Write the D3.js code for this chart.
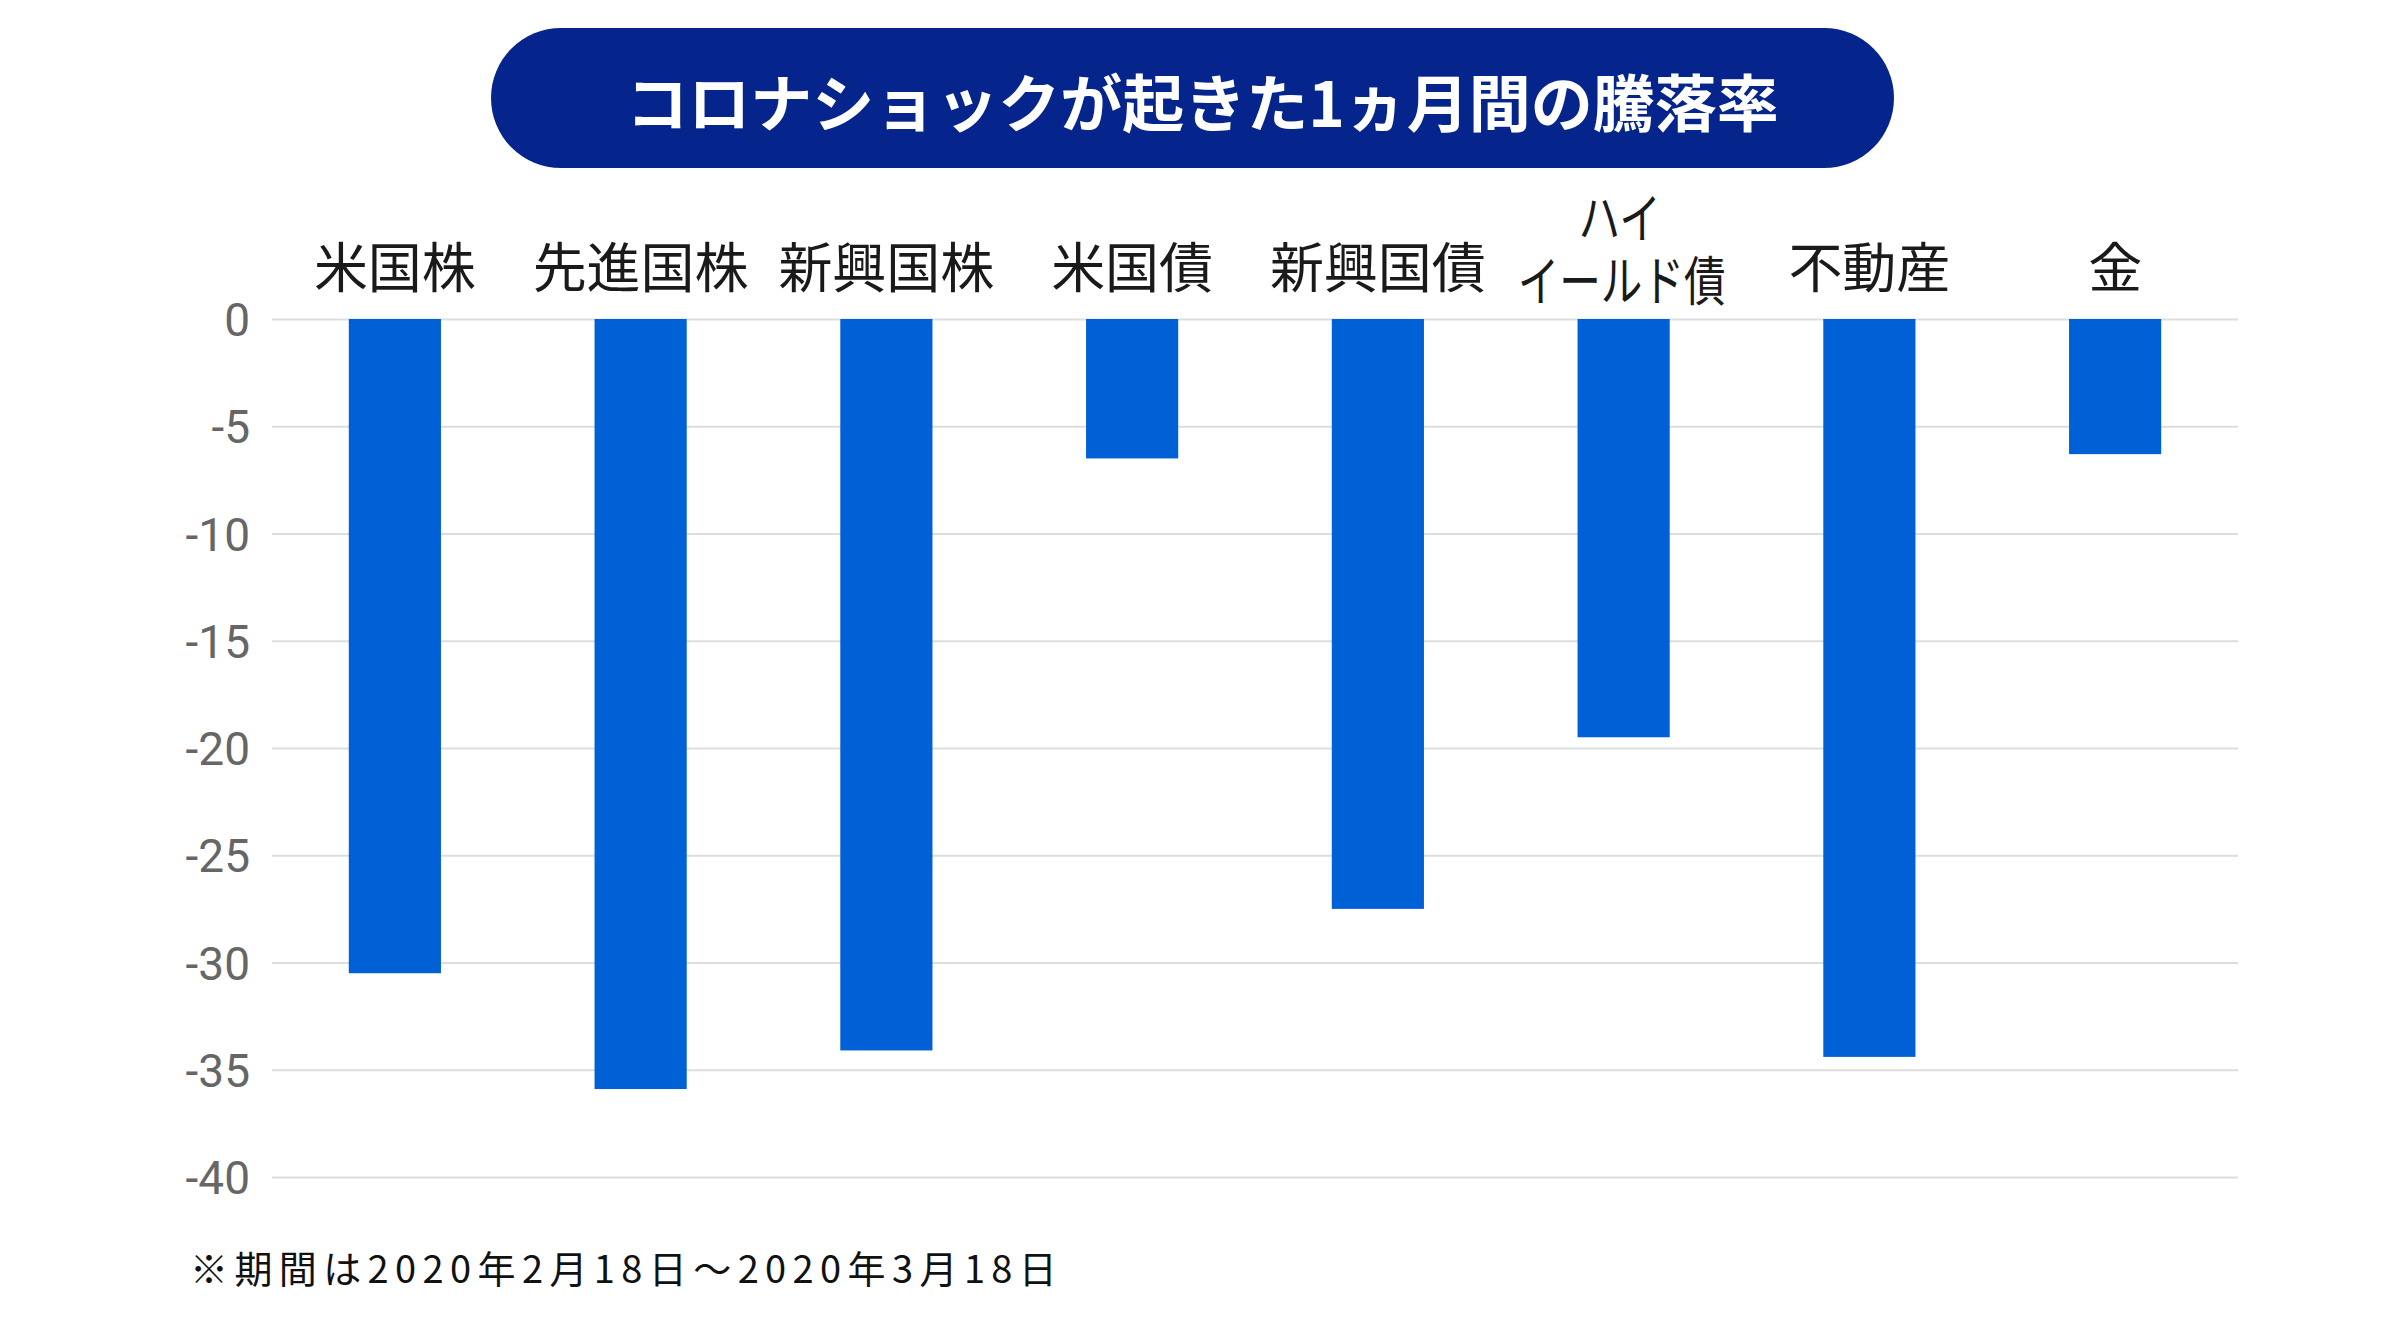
<!DOCTYPE html>
<html><head><meta charset="utf-8">
<script src="https://cdn.jsdelivr.net/npm/d3@7/dist/d3.min.js"></script>
<style>
html,body{margin:0;padding:0;background:#fff;}
svg{display:block;}
</style></head>
<body>
<svg id="chart" width="2401" height="1321"></svg>
<script>
const title = "コロナショックが起きた1ヵ月間の騰落率";
const categories = ["米国株","先進国株","新興国株","米国債","新興国債","ハイ\nイールド債","不動産","金"];
const values = [-30.5,-35.9,-34.1,-6.5,-27.5,-19.5,-34.4,-6.3];
const yTicks = [0,-5,-10,-15,-20,-25,-30,-35,-40];
const yTickLabels = ["0","-5","-10","-15","-20","-25","-30","-35","-40"];
const footnote = "※期間は2020年2月18日〜2020年3月18日";

(function(){
const svg = d3.select("#chart");
const plotLeft = 272, plotRight = 2238, plotTop = 319, plotBottom = 1177;

const x = d3.scaleBand().domain(categories).range([plotLeft, plotRight]).paddingInner(0).paddingOuter(0);
const y = d3.scaleLinear().domain([0, -40]).range([plotTop, plotBottom]);

// title pill
const pill = {x0: 491, x1: 1894, y0: 28, y1: 168};
svg.append("rect")
  .attr("x", pill.x0).attr("y", pill.y0)
  .attr("width", pill.x1 - pill.x0).attr("height", pill.y1 - pill.y0)
  .attr("rx", (pill.y1 - pill.y0)/2).attr("ry", (pill.y1 - pill.y0)/2)
  .attr("fill", "#06258c");
svg.append("text")
  .attr("x", (pill.x0 + pill.x1)/2 + 10).attr("y", 127)
  .attr("text-anchor", "middle")
  .attr("font-family", "'Noto Sans CJK JP', sans-serif")
  .attr("font-weight", 700)
  .attr("font-size", 62)
  .attr("fill", "#fff")
  .text(title);

// gridlines via axis
const yAxis = d3.axisLeft(y).tickValues(yTicks).tickSize(-(plotRight - plotLeft)).tickPadding(22)
  .tickFormat((d,i) => yTickLabels[i]);
const gAxis = svg.append("g").attr("transform", `translate(${plotLeft},0)`).call(yAxis);
gAxis.select(".domain").remove();
gAxis.selectAll(".tick line").attr("stroke", "#dddddd").attr("stroke-width", 2);
gAxis.selectAll(".tick text")
  .attr("font-family", "Roboto, sans-serif")
  .attr("font-size", 46)
  .attr("fill", "#666")
  .attr("dy", "0.36em");

// bars
const barW = x.bandwidth() * 0.375;
svg.append("g").selectAll("rect").data(categories).join("rect")
  .attr("x", d => x(d) + (x.bandwidth() - barW)/2)
  .attr("y", y(0))
  .attr("width", barW)
  .attr("height", (d,i) => y(values[i]) - y(0))
  .attr("fill", "#0060d5");

// category labels
const lab = svg.append("g")
  .attr("font-family", "'Noto Sans CJK JP', sans-serif")
  .attr("font-size", 54)
  .attr("fill", "#1a1a1a")
  .attr("text-anchor", "middle");
categories.forEach(c => {
  const lines = c.split("\n");
  const cx = x(c) + x.bandwidth()/2;
  if (lines.length === 1) {
    lab.append("text").attr("x", cx).attr("y", 288).text(c);
  } else {
    lab.append("text").attr("transform", `translate(${cx - 4},238) scale(0.77,1)`).text(lines[0]);
    lab.append("text").attr("transform", `translate(${cx - 2},301) scale(0.77,1)`).text(lines[1]);
  }
});

// footnote
svg.append("text")
  .attr("x", 190).attr("y", 1283)
  .attr("font-family", "'Noto Sans CJK JP', sans-serif")
  .attr("font-size", 38)
  .attr("letter-spacing", 6.4)
  .attr("fill", "#111")
  .text(footnote);
})();
</script>
</body></html>
